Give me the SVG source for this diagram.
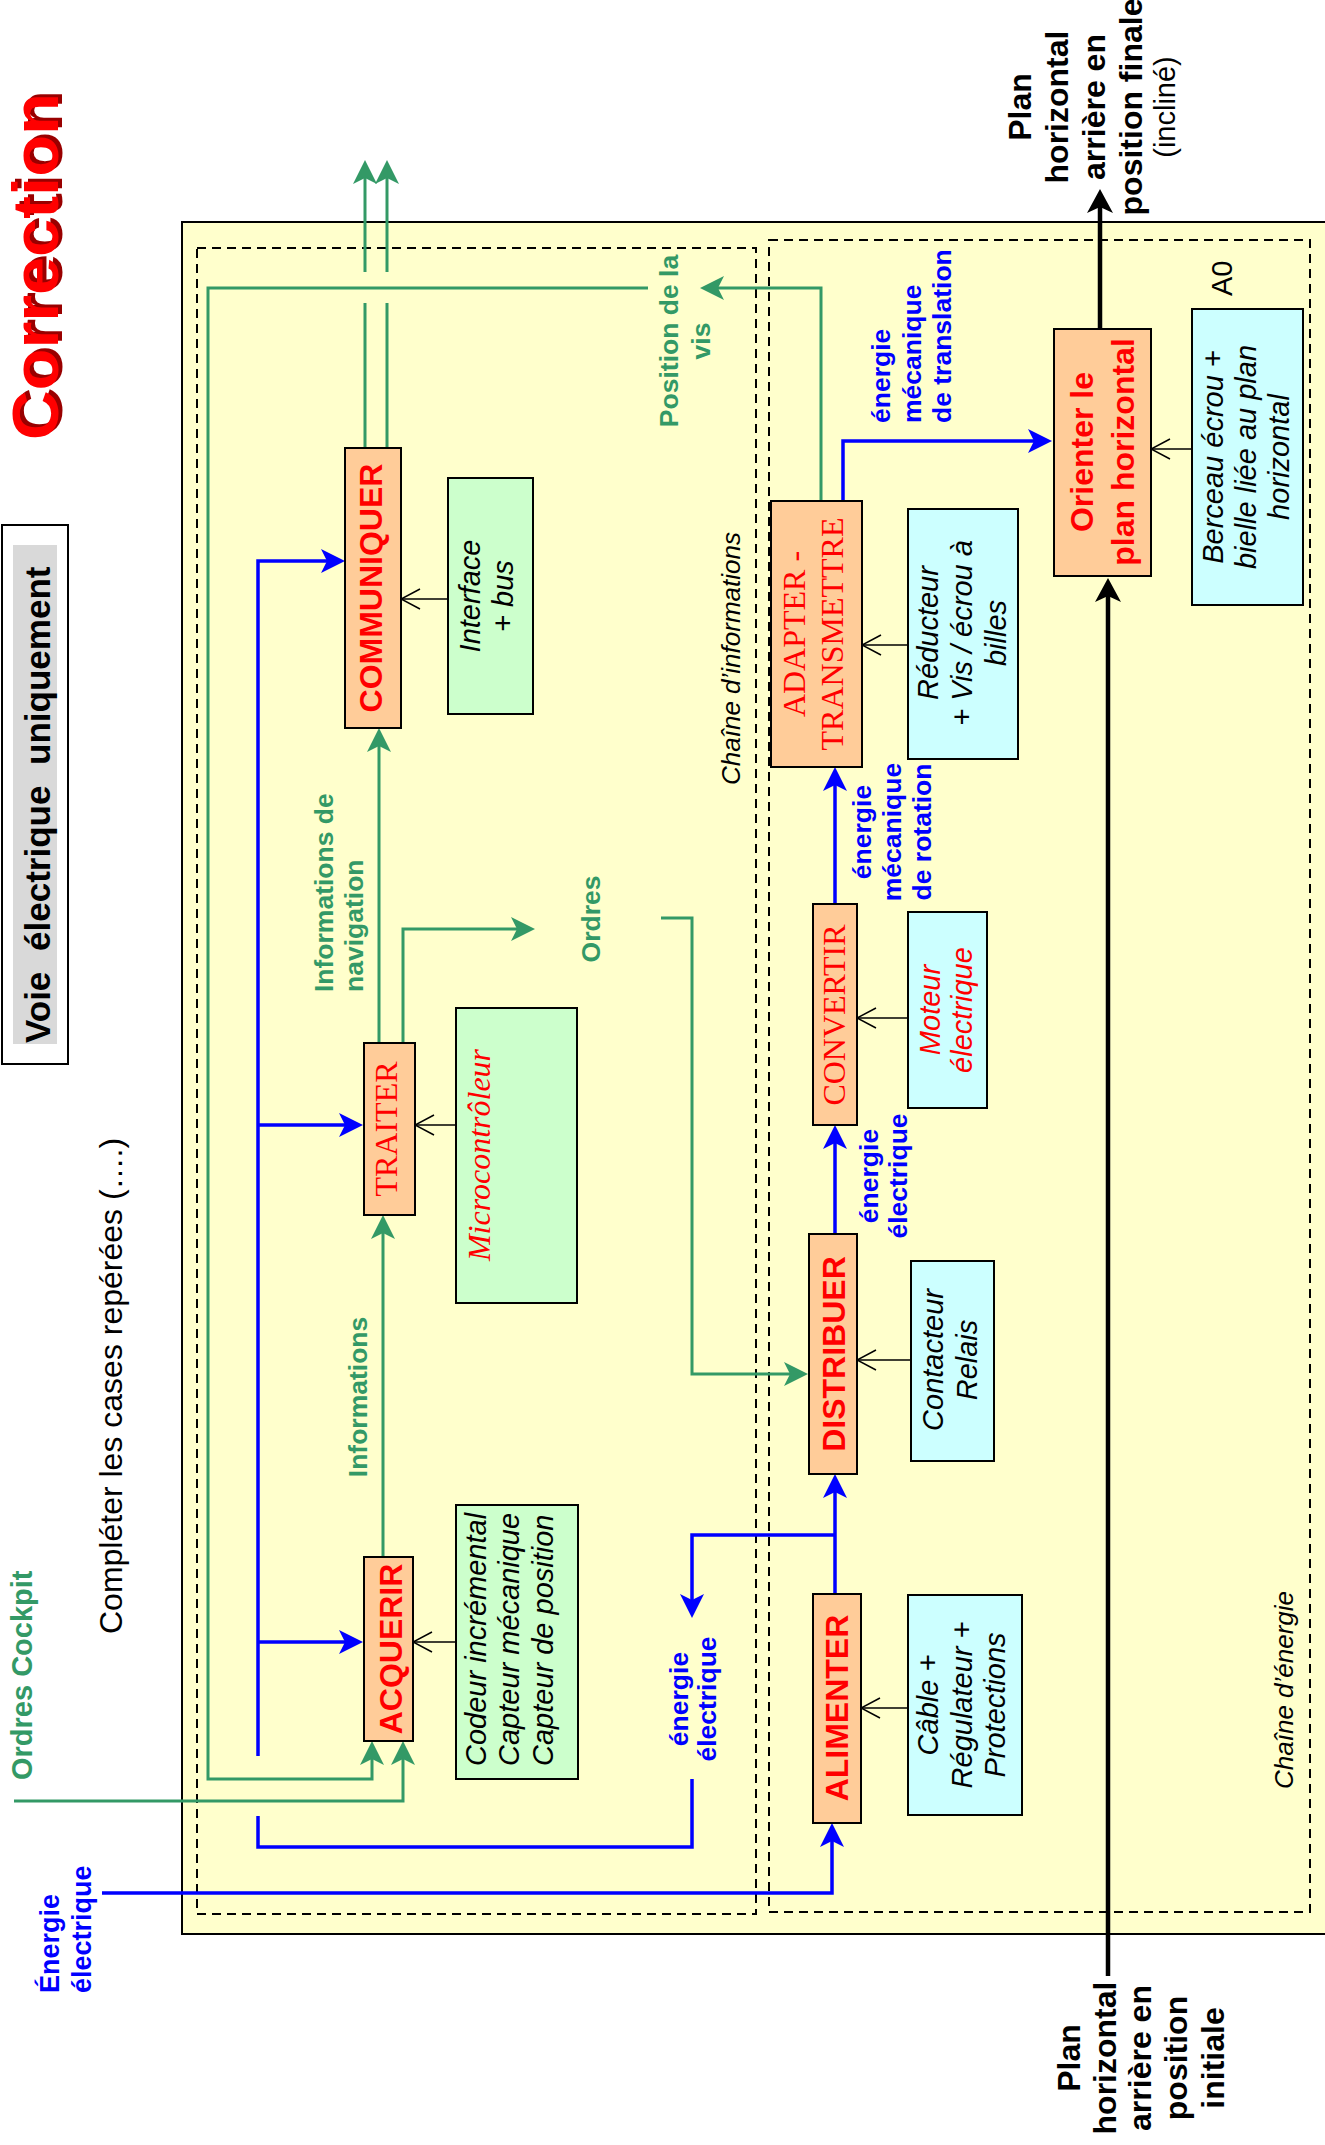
<svg xmlns="http://www.w3.org/2000/svg" width="1325" height="2145" viewBox="0 0 1325 2145">
<defs>
<style>
text{font-family:"Liberation Sans",Arial,sans-serif}
.fn{font-weight:bold;font-size:32px;fill:#ff0000}
.fs{font-family:"Liberation Serif","Times New Roman",serif;font-size:32px;fill:#ff0000}
.res{font-style:italic;font-size:29px;fill:#000}
.lb{font-weight:bold;font-size:26.5px;fill:#0000ff}
.lg{font-weight:bold;font-size:26.5px;fill:#339966}
.ital{font-style:italic;font-size:26px;fill:#000}
.box{stroke:#000;stroke-width:2}
.fbox{fill:#ffcc99}
.gbox{fill:#ccffcc}
.cbox{fill:#ccffff}
.dash{fill:none;stroke:#000;stroke-width:2;stroke-dasharray:9 6}
.gl{fill:none;stroke:#339966;stroke-width:3}
.bl{fill:none;stroke:#0000ff;stroke-width:3.5}
.kl{fill:none;stroke:#000;stroke-width:4.5}
.tl{fill:none;stroke:#000;stroke-width:1.5}
.ag{marker-end:url(#mg)}
.ab{marker-end:url(#mb)}
.ak{marker-end:url(#mk)}
.av{marker-end:url(#mv)}
</style>
<marker id="mg" viewBox="0 0 24 24" refX="18" refY="12" markerWidth="24" markerHeight="24" markerUnits="userSpaceOnUse" orient="auto"><path d="M0,0 L24,12 L0,24 L6,12 Z" fill="#339966"/></marker>
<marker id="mb" viewBox="0 0 24 24" refX="18" refY="12" markerWidth="24" markerHeight="24" markerUnits="userSpaceOnUse" orient="auto"><path d="M0,0 L24,12 L0,24 L6,12 Z" fill="#0000ff"/></marker>
<marker id="mk" viewBox="0 0 24 26" refX="18" refY="13" markerWidth="24" markerHeight="26" markerUnits="userSpaceOnUse" orient="auto"><path d="M0,0 L24,13 L0,26 L6,13 Z" fill="#000"/></marker>
<marker id="mv" viewBox="-21 -11 22 22" refX="0" refY="0" markerWidth="22" markerHeight="22" markerUnits="userSpaceOnUse" orient="auto"><path d="M-19,-10 L0,0 L-19,10" fill="none" stroke="#000" stroke-width="1.5"/></marker>
</defs>

<g id="title">
<text transform="rotate(-90)" x="-437" y="62" font-size="64" font-weight="bold" fill="#990000" textLength="347" lengthAdjust="spacingAndGlyphs">Correction</text>
<text transform="rotate(-90)" x="-440" y="58" font-size="64" font-weight="bold" fill="#ff0000" textLength="347" lengthAdjust="spacingAndGlyphs">Correction</text>
</g>

<g id="voie">
<rect x="2" y="525" width="66" height="539" fill="#fff" class="box"/>
<rect x="13" y="545" width="44" height="499" fill="#d9d9d9"/>
<text transform="rotate(-90)" x="-1043" y="50" font-size="35" font-weight="bold" fill="#000" word-spacing="11">Voie électrique uniquement</text>
</g>

<g id="consigne">
<text transform="rotate(-90)" x="-1634" y="122" font-size="32" fill="#000">Compléter les cases repérées (….)</text>
</g>

<g id="ordres-cockpit">
<text transform="rotate(-90)" x="-1780" y="32" font-size="29" font-weight="bold" fill="#339966">Ordres Cockpit</text>
</g>

<g id="energie-entree">
<text transform="rotate(-90)" font-size="27" font-weight="bold" fill="#0000ff"><tspan x="-1993" y="59">Énergie</tspan><tspan x="-1993" y="91">électrique</tspan></text>
</g>

<g id="cadre">
<rect x="182" y="222" width="1150" height="1712" fill="#ffffcc" class="box"/>
<rect x="197" y="248" width="559" height="1666" class="dash"/>
<rect x="769" y="240" width="541" height="1672" class="dash"/>
<text transform="rotate(-90)" x="-785" y="740" class="ital">Chaîne d’informations</text>
<text transform="rotate(-90)" x="-1789" y="1293" class="ital">Chaîne d’énergie</text>
<text transform="rotate(-90)" x="-296" y="1232" font-size="29" fill="#000">A0</text>
</g>

<g id="connecteurs">
<!-- green information flows -->
<path class="gl ag" d="M821,500 V288 H706"/>
<path class="gl ag" d="M648,288 H208 V1779 H372 V1747"/>
<path class="gl ag" d="M14,1801 H403 V1747"/>
<path class="gl ag" d="M383,1557 V1221"/>
<path class="gl ag" d="M379,1043 V734"/>
<path class="gl ag" d="M403,1043 V929 H529"/>
<path class="gl ag" d="M661,918 H692 V1374 H802"/>
<path class="gl" d="M365,448 V303 M387,448 V303"/>
<path class="gl ag" d="M365,272 V166"/>
<path class="gl ag" d="M387,272 V166"/>
<!-- blue energy flows -->
<path class="bl ab" d="M258,1756 V561 H339"/>
<path class="bl ab" d="M258,1125 H357"/>
<path class="bl ab" d="M258,1642 H357"/>
<path class="bl" d="M692,1779 V1847 H258 V1816"/>
<path class="bl ab" d="M835,1594 V1480"/>
<path class="bl ab" d="M835,1535 H692 V1612"/>
<path class="bl ab" d="M835,1234 V1131"/>
<path class="bl ab" d="M835,904 V773"/>
<path class="bl ab" d="M843,501 V441 H1046"/>
<path class="bl ab" d="M102,1893 H832 V1829"/>
<!-- black matter flow -->
<path class="kl ak" d="M1100,329 V195"/>
<path class="kl ak" d="M1108,1976 V584"/>
<!-- supports -->
<path class="tl av" d="M448,599 H401"/>
<path class="tl av" d="M456,1125 H415"/>
<path class="tl av" d="M456,1642 H413"/>
<path class="tl av" d="M908,645 H862"/>
<path class="tl av" d="M908,1018 H857"/>
<path class="tl av" d="M911,1360 H857"/>
<path class="tl av" d="M908,1708 H861"/>
<path class="tl av" d="M1192,449 H1151"/>
</g>

<g id="labels">
<text transform="rotate(-90)" class="lg" text-anchor="middle"><tspan x="-341" y="678">Position de la</tspan><tspan x="-341" y="710">vis</tspan></text>
<text transform="rotate(-90)" class="lg"><tspan x="-992" y="333">Informations de</tspan><tspan x="-992" y="363">navigation</tspan></text>
<text transform="rotate(-90)" class="lg" text-anchor="middle" x="-1397" y="367">Informations</text>
<text transform="rotate(-90)" class="lg" text-anchor="middle" x="-919" y="600">Ordres</text>
<text transform="rotate(-90)" class="lb" text-anchor="middle"><tspan x="-1699" y="688">énergie</tspan><tspan x="-1699" y="716">électrique</tspan></text>
<text transform="rotate(-90)" class="lb" text-anchor="middle"><tspan x="-1176" y="878">énergie</tspan><tspan x="-1176" y="907">électrique</tspan></text>
<text transform="rotate(-90)" class="lb" text-anchor="middle"><tspan x="-832" y="871">énergie</tspan><tspan x="-832" y="901">mécanique</tspan><tspan x="-832" y="931">de rotation</tspan></text>
<text transform="rotate(-90)" class="lb"><tspan x="-423" y="890">énergie</tspan><tspan x="-423" y="921">mécanique</tspan><tspan x="-423" y="951">de translation</tspan></text>
</g>

<g id="acquerir">
<rect x="364" y="1557" width="49" height="184" class="box fbox"/>
<text transform="rotate(-90)" class="fn" text-anchor="middle" x="-1649" y="402">ACQUERIR</text>
</g>
<g id="traiter">
<rect x="364" y="1043" width="51" height="172" class="box fbox"/>
<text transform="rotate(-90)" class="fs" text-anchor="middle" x="-1129" y="397">TRAITER</text>
</g>
<g id="communiquer">
<rect x="345" y="448" width="56" height="280" class="box fbox"/>
<text transform="rotate(-90)" class="fn" text-anchor="middle" x="-588" y="382">COMMUNIQUER</text>
</g>
<g id="interface">
<rect x="448" y="478" width="85" height="236" class="box gbox"/>
<text transform="rotate(-90)" class="res" font-size="28" text-anchor="middle"><tspan x="-596" y="480">Interface</tspan><tspan x="-596" y="513">+ bus</tspan></text>
</g>
<g id="microcontroleur">
<rect x="456" y="1008" width="121" height="295" class="box gbox"/>
<text transform="rotate(-90)" class="fs" font-style="italic" text-anchor="middle" x="-1155" y="490">Microcontrôleur</text>
</g>
<g id="capteurs">
<rect x="456" y="1505" width="122" height="274" class="box gbox"/>
<text transform="rotate(-90)" class="res"><tspan x="-1766" y="486">Codeur incrémental</tspan><tspan x="-1766" y="519">Capteur mécanique</tspan><tspan x="-1766" y="553">Capteur de position</tspan></text>
</g>
<g id="adapter">
<rect x="771" y="501" width="91" height="266" class="box fbox"/>
<text transform="rotate(-90)" class="fs" text-anchor="middle"><tspan x="-634" y="805">ADAPTER -</tspan><tspan x="-634" y="843">TRANSMETTRE</tspan></text>
</g>
<g id="convertir">
<rect x="813" y="904" width="44" height="221" class="box fbox"/>
<text transform="rotate(-90)" class="fs" text-anchor="middle" x="-1015" y="845">CONVERTIR</text>
</g>
<g id="distribuer">
<rect x="809" y="1234" width="48" height="240" class="box fbox"/>
<text transform="rotate(-90)" class="fn" text-anchor="middle" x="-1354" y="845">DISTRIBUER</text>
</g>
<g id="alimenter">
<rect x="813" y="1594" width="48" height="229" class="box fbox"/>
<text transform="rotate(-90)" class="fn" text-anchor="middle" x="-1708" y="848">ALIMENTER</text>
</g>
<g id="orienter">
<rect x="1054" y="329" width="97" height="247" class="box fbox"/>
<text transform="rotate(-90)" class="fn" font-size="33" text-anchor="middle"><tspan x="-452" y="1093">Orienter le</tspan><tspan x="-452" y="1134">plan horizontal</tspan></text>
</g>
<g id="reducteur">
<rect x="908" y="509" width="110" height="250" class="box cbox"/>
<text transform="rotate(-90)" class="res" text-anchor="middle"><tspan x="-633" y="938">Réducteur</tspan><tspan x="-633" y="972">+ Vis / écrou à</tspan><tspan x="-633" y="1006">billes</tspan></text>
</g>
<g id="moteur">
<rect x="908" y="912" width="79" height="196" class="box cbox"/>
<text transform="rotate(-90)" class="res" style="fill:#ff0000" text-anchor="middle"><tspan x="-1010" y="940">Moteur</tspan><tspan x="-1010" y="972">électrique</tspan></text>
</g>
<g id="contacteur">
<rect x="911" y="1261" width="83" height="200" class="box cbox"/>
<text transform="rotate(-90)" class="res" text-anchor="middle"><tspan x="-1360" y="943">Contacteur</tspan><tspan x="-1360" y="977">Relais</tspan></text>
</g>
<g id="cable">
<rect x="908" y="1595" width="114" height="220" class="box cbox"/>
<text transform="rotate(-90)" class="res" text-anchor="middle"><tspan x="-1705" y="938">Câble +</tspan><tspan x="-1705" y="972">Régulateur +</tspan><tspan x="-1705" y="1005">Protections</tspan></text>
</g>
<g id="berceau">
<rect x="1192" y="309" width="111" height="296" class="box cbox"/>
<text transform="rotate(-90)" class="res" text-anchor="middle"><tspan x="-457" y="1223">Berceau écrou +</tspan><tspan x="-457" y="1256">bielle liée au plan</tspan><tspan x="-457" y="1289">horizontal</tspan></text>
</g>

<g id="sortie">
<text transform="rotate(-90)" font-size="32" font-weight="bold" fill="#000" text-anchor="middle"><tspan x="-107" y="1031">Plan</tspan><tspan x="-107" y="1068">horizontal</tspan><tspan x="-107" y="1105">arrière en</tspan><tspan x="-107" y="1142">position finale</tspan></text>
<text transform="rotate(-90)" font-size="29" fill="#000" text-anchor="middle" x="-107" y="1175">(incliné)</text>
</g>
<g id="entree">
<text transform="rotate(-90)" font-size="32" font-weight="bold" fill="#000" text-anchor="middle"><tspan x="-2058" y="1080">Plan</tspan><tspan x="-2058" y="1116">horizontal</tspan><tspan x="-2058" y="1151">arrière en</tspan><tspan x="-2058" y="1187">position</tspan><tspan x="-2058" y="1224">initiale</tspan></text>
</g>
</svg>
